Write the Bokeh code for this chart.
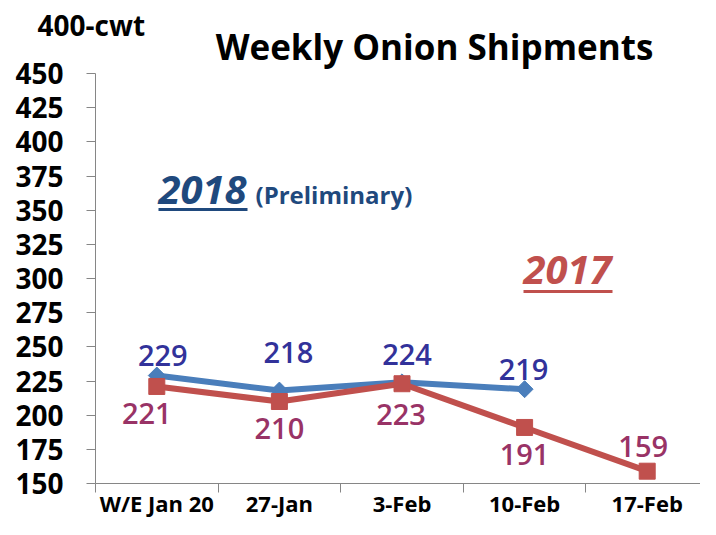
import math
from bokeh.plotting import figure
from bokeh.models import ColumnDataSource, LabelSet, Range1d, FixedTicker
from bokeh.core.properties import value
from bokeh.embed import file_html
from bokeh.resources import INLINE

# ---- data ----
categories = ["W/E Jan 20", "27-Jan", "3-Feb", "10-Feb", "17-Feb"]
ship_2018 = [229, 218, 224, 219]          # preliminary
ship_2017 = [221, 210, 223, 191, 159]
y_ticks = [150, 175, 200, 225, 250, 275, 300, 325, 350, 375, 400, 425, 450]

# ---- styles ----
FONT = "Open Sans"
LBL_FONT = "'Open Sans SemiBold', 'Open Sans'"
BLUE_LINE = "#4A7EBB"
RED_LINE = "#C0504D"
BLUE_LBL = "#32329A"
RED_LBL = "#993366"
DARK_BLUE = "#1F497D"
AXIS_GRAY = "#868686"

# ---- layout (pixels) ----
W, H = 700, 519
AX_LEFT_PX = 95          # left edge of first category / y axis line
CAT_W_PX = 122.6         # width of one category
Y_TOP_PX, Y_BOT_PX = 73, 483   # pixel rows of the top / bottom y ticks

y_lo, y_hi = y_ticks[0], y_ticks[-1]
unit_px = (Y_BOT_PX - Y_TOP_PX) / (y_hi - y_lo)
x_start = -0.5 - AX_LEFT_PX / CAT_W_PX
x_end = x_start + W / CAT_W_PX
y_end = y_hi + Y_TOP_PX / unit_px
y_start = y_lo - (H - Y_BOT_PX) / unit_px


def px_x(px):
    return x_start + px / CAT_W_PX


def px_y(py):
    return y_end - py / unit_px


xs = list(range(len(categories)))
bounds = [i - 0.5 for i in range(len(categories) + 1)]

p = figure(width=W, height=H, output_backend="svg", toolbar_location=None,
           title=None,
           x_range=Range1d(x_start, x_end), y_range=Range1d(y_start, y_end))
p.min_border = 0
p.min_border_left = 0
p.min_border_right = 0
p.min_border_top = 0
p.min_border_bottom = 0
p.outline_line_color = None
p.grid.visible = False
p.background_fill_color = "white"
p.border_fill_color = "white"

# x axis: category labels at centres, tick marks between categories
xa = p.xaxis[0]
xa.fixed_location = y_lo
xa.bounds = (bounds[0], bounds[-1])
xa.ticker = FixedTicker(ticks=xs, minor_ticks=bounds)
xa.major_label_overrides = {i: c for i, c in enumerate(categories)}
xa.major_tick_line_color = None
xa.major_tick_out = 0
xa.major_tick_in = 0
xa.minor_tick_out = 9
xa.minor_tick_in = 0
xa.minor_tick_line_color = AXIS_GRAY
xa.axis_line_color = AXIS_GRAY
xa.major_label_text_font = FONT
xa.major_label_text_font_size = "22px"
xa.major_label_text_font_style = "bold"
xa.major_label_text_color = "black"
xa.major_label_standoff = -5

ya = p.yaxis[0]
ya.fixed_location = bounds[0]
ya.bounds = (y_lo, y_hi)
ya.ticker = FixedTicker(ticks=y_ticks)
ya.minor_tick_line_color = None
ya.major_tick_out = 9
ya.major_tick_in = 0
ya.major_tick_line_color = AXIS_GRAY
ya.axis_line_color = AXIS_GRAY
ya.major_label_text_font = FONT
ya.major_label_text_font_size = "28px"
ya.major_label_text_font_style = "bold"
ya.major_label_text_color = "black"
ya.major_label_standoff = 23

# series
x18 = xs[:len(ship_2018)]
p.line(x18, ship_2018, line_color=BLUE_LINE, line_width=6, line_join="round")
p.scatter(x18, ship_2018, marker="square", angle=math.pi / 4, size=12,
          fill_color=BLUE_LINE, line_color=BLUE_LINE)
p.line(xs, ship_2017, line_color=RED_LINE, line_width=6, line_join="round")
p.scatter(xs, ship_2017, marker="square", size=16,
          fill_color=RED_LINE, line_color=RED_LINE)

# data labels (offsets in screen px: label centre relative to point, y down)
lbl_size = 29
cap_half = 0.357 * lbl_size
dx18 = [6, 9, 5, -1]
dy18 = [-20, -38, -28, -20]
dx17 = [-10, 0, -1, 0, -4]
dy17 = [27, 27, 31, 27, -25]

src18 = ColumnDataSource(dict(x=x18, y=ship_2018, text=[str(v) for v in ship_2018],
                              xo=dx18, yo=[-(d + cap_half) for d in dy18]))
src17 = ColumnDataSource(dict(x=xs, y=ship_2017, text=[str(v) for v in ship_2017],
                              xo=dx17, yo=[-(d + cap_half) for d in dy17]))
for src, col in ((src18, BLUE_LBL), (src17, RED_LBL)):
    p.add_layout(LabelSet(x="x", y="y", text="text", source=src,
                          x_offset="xo", y_offset="yo",
                          text_align="center", text_baseline="alphabetic",
                          text_font=value(LBL_FONT), text_font_size=value(f"{lbl_size}px"),
                          text_color=value(col)))


def add_text(txt, px, py, size, style, color, align="left"):
    src = ColumnDataSource(dict(x=[px_x(px)], y=[px_y(py)], text=[txt]))
    p.add_layout(LabelSet(x="x", y="y", text="text", source=src,
                          text_align=align, text_baseline="alphabetic",
                          text_font=value(FONT), text_font_size=value(f"{size}px"),
                          text_font_style=value(style), text_color=value(color)))


# titles
add_text("400-cwt", 37, 35, 28, "bold", "black")
add_text("Weekly Onion Shipments", 434, 59, 35, "bold", "black", align="center")

# series annotations
add_text("2018", 158, 203, 40, "bold italic", DARK_BLUE)
add_text("(Preliminary)", 255, 203, 24, "bold", DARK_BLUE)
add_text("2017", 523, 283, 40, "bold italic", RED_LINE)

# underlines beneath the year labels
p.segment(x0=[px_x(158)], y0=[px_y(209)], x1=[px_x(247)], y1=[px_y(209)],
          line_color=DARK_BLUE, line_width=3)
p.segment(x0=[px_x(523)], y0=[px_y(291)], x1=[px_x(612)], y1=[px_y(291)],
          line_color=RED_LINE, line_width=3)

open("out.html", "w").write(file_html(p, INLINE))
